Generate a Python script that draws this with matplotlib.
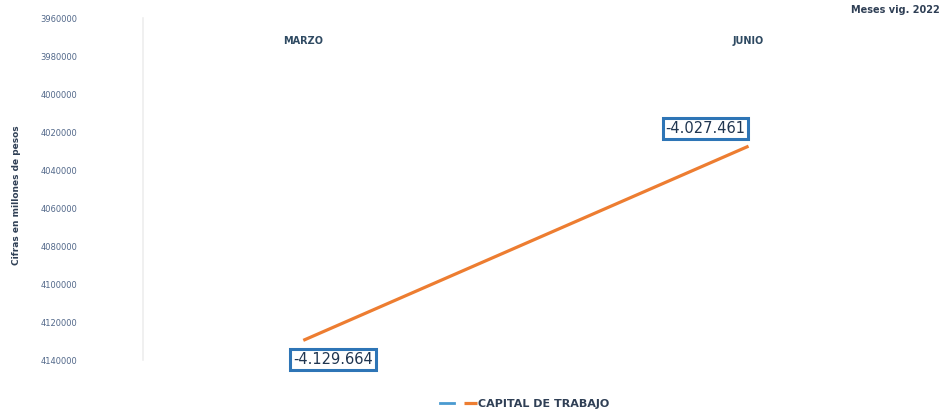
import matplotlib.pyplot as plt
from matplotlib.lines import Line2D
from matplotlib.ticker import FuncFormatter

# data
meses = ['MARZO', 'JUNIO']
capital = [-4129664, -4027461]
etiquetas = ['-4.129.664', '-4.027.461']
yticks = [-3960000, -3980000, -4000000, -4020000, -4040000,
          -4060000, -4080000, -4100000, -4120000, -4140000]

W, H = 942, 416
fig = plt.figure(figsize=(W / 100, H / 100), dpi=100)
fig.patch.set_facecolor('white')

# axes box in pixel terms
left, right, top, bottom = 143, 940, 18, 360
ax = fig.add_axes([left / W, 1 - bottom / H, (right - left) / W, (bottom - top) / H])

x = list(range(len(meses)))
line, = ax.plot(x, capital, color='#ed7d31', lw=2.3, solid_capstyle='butt', clip_on=False)

ax.set_xlim(-0.36, 1.43)
ax.set_ylim(-4140000, -3960000)
ax.set_yticks(yticks)
ax.yaxis.set_major_formatter(FuncFormatter(lambda v, p: '%d' % abs(v)))
ax.tick_params(axis='y', length=0, pad=47, labelsize=6, labelcolor='#52688a')

# category labels on top
ax.xaxis.tick_top()
ax.set_xticks(x)
ax.set_xticklabels(meses, fontsize=7, fontweight='bold', color='#2f4a62')
ax.tick_params(axis='x', length=0, pad=-20)

for s in ['top', 'right', 'bottom']:
    ax.spines[s].set_visible(False)
ax.spines['left'].set_color('#eeeeee')
ax.spines['left'].set_linewidth(1.2)

# data labels
offsets = [(30, -19), (-43, 18)]
for xi, yi, lab, off in zip(x, capital, etiquetas, offsets):
    ax.annotate(lab, (xi, yi), xytext=off, textcoords='offset pixels',
                ha='center', va='center', fontsize=10.5, color='#1f3550',
                bbox=dict(boxstyle='square,pad=0.2', fc='white', ec='#2e75b6', lw=2.2),
                annotation_clip=False)

fig.text(17 / W, 1 - 195 / H, 'Cifras en millones de pesos', rotation=90,
         ha='center', va='center', fontsize=6.5, fontweight='bold', color='#2f3f55')
fig.text(940 / W, 1 - 10 / H, 'Meses vig. 2022', ha='right', va='center',
         fontsize=7, fontweight='bold', color='#2f3f55')

blue = Line2D([], [], color='#4a9ad0', lw=2)
leg = fig.legend([blue, line], ['', 'CAPITAL DE TRABAJO'], loc='center',
                 bbox_to_anchor=(525 / W, 1 - 404 / H), ncol=2, frameon=False,
                 handlelength=1.2, columnspacing=0.8, handletextpad=0.1,
                 prop={'size': 8, 'weight': 'bold'})
for t in leg.get_texts():
    t.set_color('#2f3f55')

fig.savefig('out.png', dpi=100, facecolor='white')
